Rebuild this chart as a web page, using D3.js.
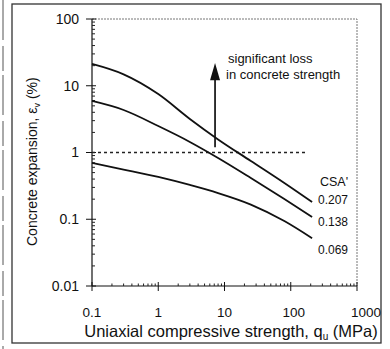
<!DOCTYPE html>
<html>
<head>
<meta charset="utf-8">
<script src="https://cdn.jsdelivr.net/npm/d3@7"></script>
<style>
  body { margin: 0; background: #fff; }
  text { font-family: Arial, "Liberation Sans", sans-serif; fill: #111; }
</style>
</head>
<body>
<div id="chart"></div>
<script>
// strength values (MPa)
const strength = [0.1, 0.3, 1, 3, 8, 25, 80, 210];
// concrete expansion (%) for each CSA' ratio
const exp207 = [21.2, 14.8, 7.5, 3.18, 1.57, 0.746, 0.349, 0.181];
const exp138 = [5.91, 4.33, 2.49, 1.44, 0.828, 0.415, 0.201, 0.108];
const exp069 = [0.697, 0.556, 0.43, 0.326, 0.247, 0.166, 0.094, 0.052];
const csaLabels = ["0.207", "0.138", "0.069"];
const xTicks = [0.1, 1, 10, 100, 1000];
const yTicks = [0.01, 0.1, 1, 10, 100];

const width = 390, height = 349;
const margin = {top: 19, right: 33, bottom: 63, left: 92};

const x = d3.scaleLog()
  .domain([0.1, 1000])
  .range([margin.left, width - margin.right]);
const y = d3.scaleLog()
  .domain([0.01, 100])
  .range([height - margin.bottom, margin.top]);

const svg = d3.select("#chart")
  .append("svg")
  .attr("width", width)
  .attr("height", height);

// scanned page frame
svg.append("rect")
  .attr("x", 12).attr("y", 4)
  .attr("width", 369).attr("height", 339)
  .attr("fill", "none")
  .attr("stroke", "#333")
  .attr("stroke-width", 1.3);
svg.append("line")
  .attr("x1", 3).attr("x2", 3)
  .attr("y1", 0).attr("y2", 349)
  .attr("stroke", "#555")
  .attr("stroke-dasharray", "40,6,25,4");

// top and right border of the plot, dotted grey
svg.append("path")
  .attr("d", `M${x(0.1)},${y(100)}H${x(1000)}V${y(0.01)}`)
  .attr("fill", "none")
  .attr("stroke", "#777")
  .attr("stroke-dasharray", "2,1");

const minor = (lo, hi) => {
  const v = [];
  for (let p = lo; p < hi; p++)
    for (let k = 2; k <= 9; k++) v.push(k * Math.pow(10, p));
  return v;
};

// x axis
const xAxis = svg.append("g")
  .attr("transform", `translate(0,${y(0.01)})`);
xAxis.append("line")
  .attr("x1", x(0.1)).attr("x2", x(1000))
  .attr("stroke", "#111").attr("stroke-width", 1.2);
xAxis.selectAll(".mj")
  .data(xTicks)
  .join("line")
  .attr("x1", d => x(d)).attr("x2", d => x(d))
  .attr("y1", -4).attr("y2", 5)
  .attr("stroke", "#111");
xAxis.selectAll(".mn")
  .data(minor(-1, 3))
  .join("line")
  .attr("x1", d => x(d)).attr("x2", d => x(d))
  .attr("y1", -2.5).attr("y2", 0)
  .attr("stroke", "#222");
xAxis.selectAll("text")
  .data(xTicks)
  .join("text")
  .attr("x", d => x(d) + (d === 1000 ? 9 : d === 100 ? 3 : 0))
  .attr("y", 31)
  .attr("text-anchor", "middle")
  .attr("font-size", 13.5)
  .text(d => d);

// y axis
const yAxis = svg.append("g")
  .attr("transform", `translate(${x(0.1)},0)`);
yAxis.append("line")
  .attr("y1", y(0.01)).attr("y2", y(100))
  .attr("stroke", "#111").attr("stroke-width", 1.2);
yAxis.selectAll(".mj")
  .data(yTicks)
  .join("line")
  .attr("y1", d => y(d)).attr("y2", d => y(d))
  .attr("x1", -6).attr("x2", 4)
  .attr("stroke", "#111");
yAxis.selectAll(".mn")
  .data(minor(-2, 2))
  .join("line")
  .attr("y1", d => y(d)).attr("y2", d => y(d))
  .attr("x1", 0).attr("x2", 3)
  .attr("stroke", "#222");
yAxis.selectAll("text")
  .data(yTicks)
  .join("text")
  .attr("x", -13)
  .attr("y", d => y(d))
  .attr("dy", "0.35em")
  .attr("text-anchor", "end")
  .attr("font-size", 14)
  .text(d => d);

// axis titles
const xt = svg.append("text")
  .attr("x", 231).attr("y", 337)
  .attr("text-anchor", "middle")
  .attr("font-size", 16.5)
  .text("Uniaxial compressive strength, q");
xt.append("tspan").attr("font-size", 10).attr("dy", 3).text("u");
xt.append("tspan").attr("dy", -3).text(" (MPa)");

const yt = svg.append("text")
  .attr("transform", "translate(37,246) rotate(-90)")
  .attr("font-size", 14)
  .text("Concrete expansion, \u03b5");
yt.append("tspan").attr("font-size", 9).attr("dy", 3).text("v");
yt.append("tspan").attr("dy", -3).text(" (%)");

// threshold line at 1 %
svg.append("line")
  .attr("x1", x(0.1)).attr("x2", x(180))
  .attr("y1", y(1)).attr("y2", y(1))
  .attr("stroke", "#222")
  .attr("stroke-width", 1.3)
  .attr("stroke-dasharray", "3,3");

// curves
const line = d3.line()
  .x((d, i) => x(strength[i]))
  .y(d => y(d))
  .curve(d3.curveMonotoneX);

const series = [exp207, exp138, exp069];
svg.append("g")
  .selectAll("path")
  .data(series)
  .join("path")
  .attr("d", line)
  .attr("fill", "none")
  .attr("stroke", "#111")
  .attr("stroke-width", 1.8);

svg.append("text")
  .attr("x", 320).attr("y", 186)
  .attr("font-size", 12.5)
  .text("CSA'");
svg.append("g")
  .selectAll("text")
  .data(series)
  .join("text")
  .attr("x", 318)
  .attr("y", (d, i) => y(d[d.length - 1]) + i * 7 - 2)
  .attr("dy", "0.35em")
  .attr("font-size", 12)
  .text((d, i) => csaLabels[i]);

// arrow
const ax = x(7.2), yTip = y(22), yBase = y(12.5), yEnd = y(1.2);
svg.append("line")
  .attr("x1", ax).attr("x2", ax)
  .attr("y1", yEnd).attr("y2", yBase)
  .attr("stroke", "#111")
  .attr("stroke-width", 1.7);
svg.append("path")
  .attr("d", `M${ax},${yTip}L${ax - 5},${yBase + 1}L${ax + 5},${yBase + 1}Z`)
  .attr("fill", "#111");

svg.append("text")
  .attr("x", 228).attr("y", 63)
  .attr("font-size", 13)
  .text("significant loss");
svg.append("text")
  .attr("x", 226).attr("y", 79)
  .attr("font-size", 13)
  .text("in concrete strength");
</script>
</body>
</html>
